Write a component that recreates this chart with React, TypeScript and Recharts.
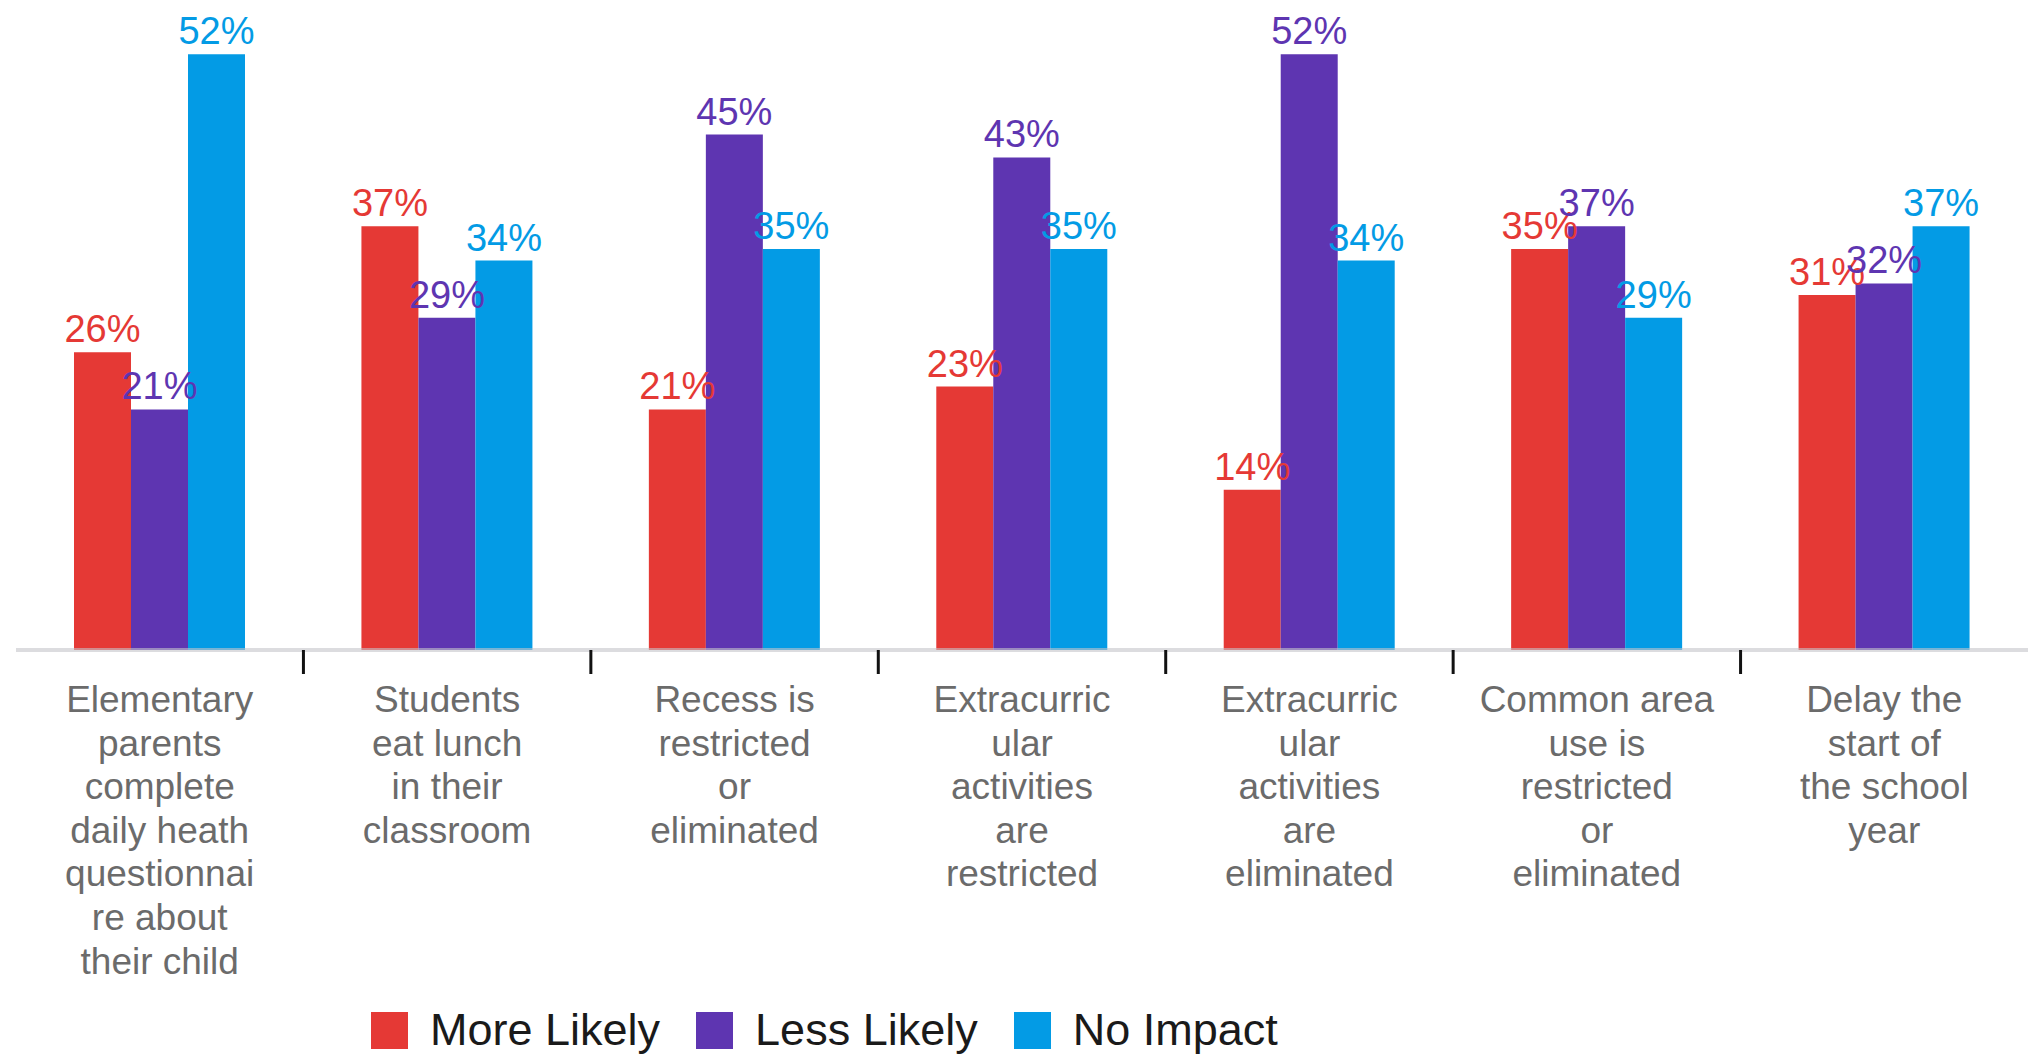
import React from 'react';
import { BarChart, Bar, XAxis, YAxis, Legend, LabelList } from 'recharts';

const categories = [
  'Elementary parents complete daily heath questionnaire about their child',
  'Students eat lunch in their classroom',
  'Recess is restricted or eliminated',
  'Extracurricular activities are restricted',
  'Extracurricular activities are eliminated',
  'Common area use is restricted or eliminated',
  'Delay the start of the school year',
];

// wrapped tick labels, as they break in the original
const tickLines = [
  ['Elementary', 'parents', 'complete', 'daily heath', 'questionnai', 're about', 'their child'],
  ['Students', 'eat lunch', 'in their', 'classroom'],
  ['Recess is', 'restricted', 'or', 'eliminated'],
  ['Extracurric', 'ular', 'activities', 'are', 'restricted'],
  ['Extracurric', 'ular', 'activities', 'are', 'eliminated'],
  ['Common area', 'use is', 'restricted', 'or', 'eliminated'],
  ['Delay the', 'start of', 'the school', 'year'],
];

const seriesNames = ['More Likely', 'Less Likely', 'No Impact'];
const moreLikely = [26, 37, 21, 23, 14, 35, 31];
const lessLikely = [21, 29, 45, 43, 52, 37, 32];
const noImpact = [52, 34, 35, 35, 34, 29, 37];

const RED = '#E53935';
const PURPLE = '#5E35B1';
const BLUE = '#039BE5';
const FONT = '"Liberation Sans", Arial, sans-serif';

const data = categories.map((category, i) => ({
  category,
  more: moreLikely[i],
  less: lessLikely[i],
  none: noImpact[i],
}));

// label lines plus a short separator mark at the right edge of each band
const CategoryTick = (props: any) => {
  const { x, y, payload } = props;
  const idx = categories.indexOf(payload.value);
  const lines = tickLines[idx] || [payload.value];
  const half = payload && typeof payload.offset === 'number' ? payload.offset : null;
  const showSep = half !== null && idx < categories.length - 1;
  return (
    <g>
      {showSep && (
        <line x1={x + half} x2={x + half} y1={y} y2={y + 24} stroke="#111" strokeWidth={3} />
      )}
      <text x={x} y={y} textAnchor="middle" fill="#6b6b6b" fontSize={37} fontFamily={FONT}>
        {lines.map((line, i) => (
          <tspan key={i} x={x} dy={i === 0 ? 62 : 43.6}>
            {line}
          </tspan>
        ))}
      </text>
    </g>
  );
};

const renderLegend = (props: any) => {
  const items = [...(props.payload || [])].sort(
    (a: any, b: any) => seriesNames.indexOf(a.value) - seriesNames.indexOf(b.value)
  );
  return (
    <div
      style={{
        display: 'flex',
        alignItems: 'center',
        height: 50,
        fontFamily: FONT,
        fontSize: 45,
        color: '#1a1a1a',
        whiteSpace: 'nowrap',
      }}
    >
      {items.map((entry: any, i: number) => (
        <div key={i} style={{ display: 'flex', alignItems: 'center', marginRight: 36 }}>
          <span
            style={{
              display: 'inline-block',
              width: 37,
              height: 37,
              background: entry.color,
              marginRight: 22,
            }}
          />
          <span>{entry.value}</span>
        </div>
      ))}
    </div>
  );
};

const pctLabel = (v: any) => `${v}%`;

export default function App() {
  return (
    <div>
      <style>{`body{margin:0;background:#fff}`}</style>
      <BarChart
        width={2028}
        height={1057}
        data={data}
        margin={{ top: 20, right: 0, bottom: 406, left: 16 }}
        barCategoryGap={58}
        barGap={0}
        style={{ fontFamily: FONT }}
      >
        <YAxis hide domain={[0, 55]} />
        <Bar dataKey="more" name={seriesNames[0]} fill={RED} isAnimationActive={false}>
          <LabelList dataKey="more" position="top" offset={10} fill={RED} fontSize={38} formatter={pctLabel} />
        </Bar>
        <Bar dataKey="less" name={seriesNames[1]} fill={PURPLE} isAnimationActive={false}>
          <LabelList dataKey="less" position="top" offset={10} fill={PURPLE} fontSize={38} formatter={pctLabel} />
        </Bar>
        <Bar dataKey="none" name={seriesNames[2]} fill={BLUE} isAnimationActive={false}>
          <LabelList dataKey="none" position="top" offset={10} fill={BLUE} fontSize={38} formatter={pctLabel} />
        </Bar>
        <XAxis
          dataKey="category"
          interval={0}
          height={1}
          tickLine={false}
          tickSize={0}
          tickMargin={0}
          axisLine={{ stroke: '#c4c5c9', strokeWidth: 4, strokeOpacity: 0.6 }}
          tick={<CategoryTick />}
        />
        <Legend
          layout="horizontal"
          verticalAlign="middle"
          content={renderLegend}
          wrapperStyle={{ top: 1005, left: 371, width: 'auto' }}
        />
      </BarChart>
    </div>
  );
}
